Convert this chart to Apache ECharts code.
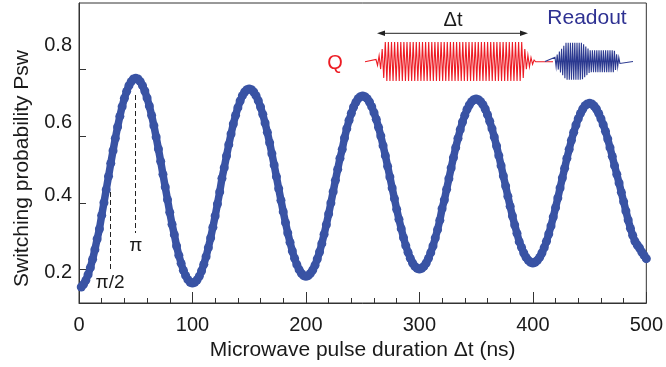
<!DOCTYPE html>
<html>
<head>
<meta charset="utf-8">
<script src="https://cdn.jsdelivr.net/npm/echarts@6/dist/echarts.min.js"></script>
<style>
  html, body { margin: 0; padding: 0; background: #fff; }
  #chart { width: 666px; height: 367px; }
</style>
</head>
<body>
<div id="chart"></div>
<script>
// pulse durations run from tStart in steps of tStep (ns)
const tStart = 2;
const tStep = 2;

// switching probability, one value per duration
const psw = [
  0.148, 0.156, 0.168, 0.185, 0.206, 0.231, 0.260, 0.292, 0.322, 0.363, 0.401, 0.440, 0.480, 0.519, 0.557, 0.594, 0.628, 0.660, 0.689, 0.714, 0.735, 0.752, 0.764, 0.772, 0.774,
  0.772, 0.764, 0.752, 0.736, 0.715, 0.691, 0.663, 0.632, 0.598, 0.562, 0.525, 0.486, 0.448, 0.410, 0.372, 0.336, 0.305, 0.271, 0.243, 0.219, 0.198, 0.182, 0.170, 0.162, 0.160,
  0.162, 0.169, 0.180, 0.196, 0.216, 0.239, 0.266, 0.295, 0.327, 0.361, 0.397, 0.433, 0.474, 0.506, 0.541, 0.575, 0.607, 0.637, 0.663, 0.686, 0.706, 0.722, 0.733, 0.740, 0.742,
  0.740, 0.733, 0.722, 0.707, 0.688, 0.666, 0.640, 0.612, 0.581, 0.548, 0.514, 0.479, 0.443, 0.408, 0.374, 0.341, 0.310, 0.282, 0.256, 0.234, 0.215, 0.200, 0.189, 0.182, 0.180,
  0.182, 0.189, 0.199, 0.213, 0.232, 0.253, 0.278, 0.306, 0.335, 0.367, 0.400, 0.434, 0.468, 0.501, 0.534, 0.561, 0.595, 0.623, 0.648, 0.669, 0.688, 0.702, 0.713, 0.719, 0.721,
  0.719, 0.713, 0.703, 0.689, 0.671, 0.651, 0.627, 0.601, 0.572, 0.542, 0.510, 0.478, 0.445, 0.413, 0.381, 0.351, 0.323, 0.296, 0.272, 0.252, 0.234, 0.220, 0.210, 0.204, 0.202,
  0.204, 0.210, 0.220, 0.234, 0.251, 0.271, 0.295, 0.320, 0.348, 0.383, 0.409, 0.441, 0.473, 0.505, 0.536, 0.566, 0.594, 0.620, 0.643, 0.663, 0.681, 0.694, 0.704, 0.710, 0.712,
  0.710, 0.704, 0.695, 0.682, 0.665, 0.645, 0.623, 0.598, 0.571, 0.542, 0.512, 0.481, 0.451, 0.420, 0.390, 0.361, 0.334, 0.309, 0.284, 0.267, 0.250, 0.237, 0.228, 0.222, 0.220,
  0.222, 0.228, 0.237, 0.250, 0.266, 0.285, 0.307, 0.331, 0.358, 0.386, 0.415, 0.445, 0.475, 0.504, 0.534, 0.561, 0.588, 0.612, 0.634, 0.653, 0.669, 0.682, 0.692, 0.697, 0.699,
  0.697, 0.691, 0.682, 0.669, 0.653, 0.635, 0.615, 0.592, 0.566, 0.540, 0.512, 0.486, 0.460, 0.432, 0.404, 0.376, 0.349, 0.324, 0.303, 0.285, 0.274, 0.265, 0.253, 0.243, 0.233
];

const xTicks = [0, 100, 200, 300, 400, 500];
const yTicks = [0.2, 0.4, 0.6, 0.8];
// the printed y labels sit a little off their ticks in the original
const yLabelAt = [0.1915, 0.4216, 0.6415, 0.872];
const yLabelText = ['0.2', '0.4', '0.6', '0.8'];

// pi/2 and pi guide lines: duration, top and bottom probability
const guideNames = ['π/2', 'π'];
const guideX = [27.4, 50];
const guideTop = [0.433, 0.724];
const guideBottom = [0.199, 0.31];

const FONT = "'Liberation Sans', Arial, sans-serif";
const dotColor = '#3953a4';

const chart = echarts.init(document.getElementById('chart'));

// zigzag for the schematic pulse sketch in the top right corner
function zigzag(x0, x1, yc, halfPeriod, amp) {
  const pts = [];
  let i = 0;
  for (let x = x0; x <= x1; x += halfPeriod, i++) {
    const a = amp(x);
    pts.push([x, yc + (i % 2 ? a : -a)]);
  }
  return pts;
}

const qAmp = (x) => {
  if (x < 376) return 0;
  if (x < 382) return 2 + (x - 376) * 1.2;
  if (x < 385) return 12 + (x - 382) * 2.5;
  if (x < 522) return 19.5;
  if (x < 526) return 19.5 - (x - 522) * 2.5;
  if (x < 536) return Math.max(0, 8 - (x - 526) * 0.8);
  return 0;
};
const rAmp = (x) => {
  if (x < 555) return 0;
  if (x < 566) return 4 + (x - 555) * 1.3;
  if (x < 582) return 18.5;
  if (x < 590) return 18.5 - (x - 582) * 0.95;
  if (x < 614) return 11;
  if (x < 621) return 11 - (x - 614) * 1.5;
  return 0;
};

const redWave = [[365, 61.7]].concat(zigzag(376, 536, 61.5, 1.55, qAmp), [[553, 61.7]]);
const blueWave = [[545, 61.5]].concat(zigzag(555, 621, 61.3, 1.1, rAmp), [[633, 61.5]]);

const points = psw.map((v, i) => [tStart + i * tStep, v]);

const option = {
  animation: false,
  grid: {
    left: 79, right: 19, top: 3, bottom: 64,
    show: true, borderColor: '#333', borderWidth: 1, backgroundColor: 'transparent'
  },
  xAxis: {
    type: 'value', min: 0, max: 500, interval: 100,
    name: 'Microwave pulse duration Δt (ns)',
    nameLocation: 'middle', nameGap: 31,
    nameTextStyle: { fontFamily: FONT, fontSize: 21, color: '#1a1a1a' },
    axisLine: { show: true, lineStyle: { color: '#333', width: 1 } },
    axisTick: { show: true, inside: true, length: 11, lineStyle: { color: '#333' } },
    minorTick: { show: true, splitNumber: 5, length: 5, lineStyle: { color: '#333' } },
    splitLine: { show: false },
    axisLabel: {
      customValues: xTicks,
      fontFamily: FONT, fontSize: 20, color: '#1a1a1a', margin: 12
    }
  },
  yAxis: {
    type: 'value', min: 0.1, max: 1.0,
    name: 'Switching probability Psw',
    nameLocation: 'middle', nameGap: 46,
    nameTextStyle: { fontFamily: FONT, fontSize: 21, color: '#1a1a1a', padding: [0, 31, 0, 0] },
    axisLine: { show: true, lineStyle: { color: '#333', width: 1 } },
    axisTick: { show: true, inside: true, length: 7, customValues: yTicks, lineStyle: { color: '#333' } },
    splitLine: { show: false },
    axisLabel: {
      customValues: yLabelAt,
      fontFamily: FONT, fontSize: 20, color: '#1a1a1a', margin: 7,
      formatter: (v) => {
        let best = 0;
        yLabelAt.forEach((p, i) => { if (Math.abs(p - v) < Math.abs(yLabelAt[best] - v)) best = i; });
        return yLabelText[best];
      }
    }
  },
  series: [
    {
      // dense measurement points merge into a band in the original
      type: 'line',
      data: points,
      showSymbol: false,
      silent: true,
      lineStyle: { color: dotColor, width: 7.5, cap: 'round', join: 'round' },
      z: 1
    },
    {
      type: 'scatter',
      symbol: 'circle',
      symbolSize: 9,
      itemStyle: { color: dotColor, opacity: 1 },
      data: points,
      z: 2,
      markLine: {
        silent: true,
        symbol: ['none', 'none'],
        lineStyle: { color: '#222', type: [5, 3], width: 1 },
        label: {
          show: true, position: 'end', distance: 3,
          fontFamily: FONT, fontSize: 19, color: '#1a1a1a',
          formatter: (p) => p.name
        },
        data: guideNames.map((n, i) => [
          { name: n, coord: [guideX[i], guideTop[i]] },
          { coord: [guideX[i], guideBottom[i]] }
        ])
      }
    }
  ],
  graphic: [
    { type: 'polyline', shape: { points: redWave }, style: { stroke: '#ed1c24', lineWidth: 1.1, fill: null }, z: 100 },
    { type: 'polyline', shape: { points: blueWave }, style: { stroke: '#2b3990', lineWidth: 1.1, fill: null }, z: 100 },
    { type: 'line', shape: { x1: 382, y1: 33.3, x2: 523, y2: 33.3 }, style: { stroke: '#222', lineWidth: 1 }, z: 100 },
    { type: 'polygon', shape: { points: [[377, 33.3], [385, 30.5], [385, 36.1]] }, style: { fill: '#222' }, z: 100 },
    { type: 'polygon', shape: { points: [[528, 33.3], [520, 30.5], [520, 36.1]] }, style: { fill: '#222' }, z: 100 },
    { type: 'text', x: 453, y: 20, style: { text: 'Δt', font: '20px ' + FONT, fill: '#1a1a1a', align: 'center', verticalAlign: 'middle' }, z: 100 },
    { type: 'text', x: 335, y: 63, style: { text: 'Q', font: '20px ' + FONT, fill: '#ed1c24', align: 'center', verticalAlign: 'middle' }, z: 100 },
    { type: 'text', x: 587, y: 18.5, style: { text: 'Readout', font: '21px ' + FONT, fill: '#2e3192', align: 'center', verticalAlign: 'middle' }, z: 100 }
  ]
};

chart.setOption(option);
</script>
</body>
</html>
